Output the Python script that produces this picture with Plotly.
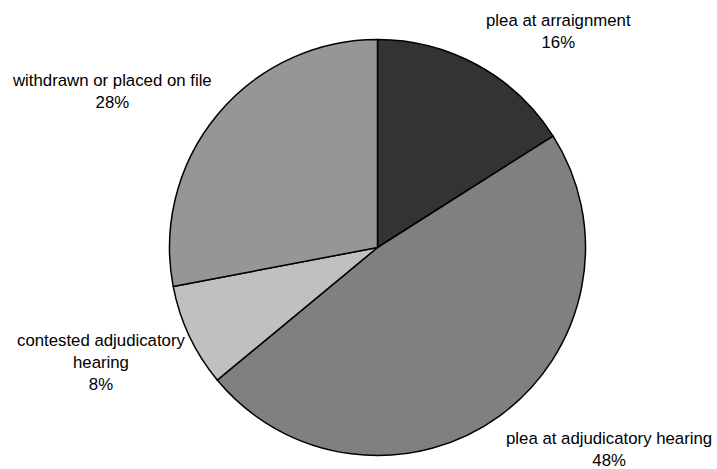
import plotly.graph_objects as go

labels = ["plea at arraignment", "plea at adjudicatory hearing",
          "contested adjudicatory hearing", "withdrawn or placed on file"]
label_lines = ["plea at arraignment", "plea at adjudicatory hearing",
               "contested adjudicatory<br>hearing", "withdrawn or placed on file"]
values = [16, 48, 8, 28]
colors = ["#333333", "#808080", "#c0c0c0", "#969696"]

W, H = 717, 469
cx, cy, r = 377.5, 247.5, 208

# label centres in pixels (layout only)
label_pos = [(558, 32), (609, 449), (101, 362), (112, 91)]

fig = go.Figure(go.Pie(
    labels=labels, values=values, sort=False, direction="clockwise", rotation=0,
    marker=dict(colors=colors, line=dict(color="black", width=1.5)),
    textinfo="none", hoverinfo="label+percent", showlegend=False,
    domain=dict(x=[(cx - r) / W, (cx + r) / W],
                y=[(H - cy - r) / H, (H - cy + r) / H]),
))

total = sum(values)
annotations = []
for txt, v, (px, py) in zip(label_lines, values, label_pos):
    annotations.append(dict(
        text=f"{txt}<br>{round(100 * v / total)}%",
        x=px / W, y=1 - py / H, xref="paper", yref="paper",
        xanchor="center", yanchor="middle", showarrow=False, align="center",
        font=dict(family="Liberation Sans, Arial, sans-serif", size=16.8, color="black"),
    ))

fig.update_layout(
    width=W, height=H, margin=dict(l=0, r=0, t=0, b=0),
    paper_bgcolor="white", plot_bgcolor="white",
    annotations=annotations,
    font=dict(family="Liberation Sans, Arial, sans-serif"),
)
fig.write_html("out.html", config={"displayModeBar": False},
               post_script="document.body.style.margin='0';document.body.style.overflow='hidden';")
